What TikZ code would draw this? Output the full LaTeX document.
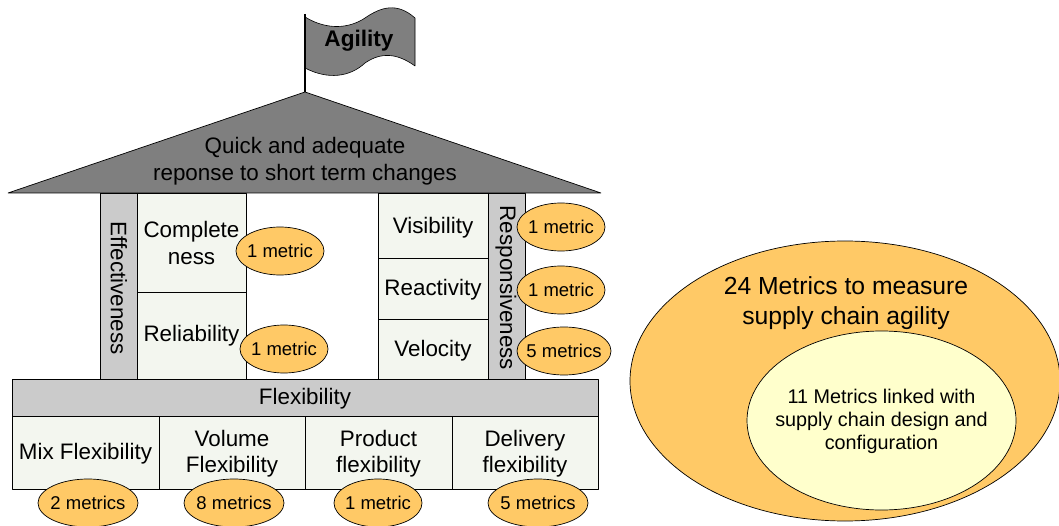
\documentclass[tikz,border=0pt]{standalone}
\usepackage{fontspec}
\setmainfont{Liberation Sans}
\usetikzlibrary{shapes.geometric}
\definecolor{cellfill}{HTML}{F3F6EF}
\definecolor{bandfill}{HTML}{CBCBCB}
\definecolor{roofgrey}{HTML}{7F7F7F}
\definecolor{metricfill}{HTML}{FFC966}
\definecolor{innerfill}{HTML}{FFFFCC}
\tikzset{
  x=1pt,y=-1pt,
  base/.style={draw=black,line width=0.7pt,inner sep=0pt,outer sep=0pt,align=center,text=black,
    font=\fontsize{22.4}{26.5}\selectfont},
  cell/.style={base,fill=cellfill,anchor=north west},
  band/.style={base,fill=bandfill,anchor=north west},
  metric/.style={base,ellipse,fill=metricfill,minimum height=48pt,inner xsep=-10pt,inner ysep=-3pt,font=\fontsize{18.5}{22}\selectfont},
  label/.style={inner sep=0pt,outer sep=0pt,align=center,text=black,font=\fontsize{22.4}{26.5}\selectfont},
}
\begin{document}
\begin{tikzpicture}[line join=bevel]
\useasboundingbox (0,0) rectangle (1059,526);
% pillars left
\node[band,minimum width=37pt,minimum height=186pt] (effband) at (100,193) {};
\node[label,rotate=-90] (efftext) at (119,288) {Effectiveness};
\node[cell,minimum width=109pt,minimum height=99pt] (compl) at (137,193) {};
\node[label] (compltext) at (191.5,243) {Complete\\ness};
\node[cell,minimum width=109pt,minimum height=87pt] (relia) at (137,292) {};
\node[label] (reliatext) at (191.5,336) {Reliability};
% pillars right
\node[cell,minimum width=110pt,minimum height=65pt] (visib) at (378,193) {};
\node[label] (visibtext) at (433,228) {Visibility};
\node[cell,minimum width=110pt,minimum height=61pt] (react) at (378,258) {};
\node[label] (reacttext) at (433,290) {Reactivity};
\node[cell,minimum width=110pt,minimum height=60pt] (veloc) at (378,319) {};
\node[label] (veloctext) at (433,351) {Velocity};
\node[band,minimum width=37pt,minimum height=186pt] (respband) at (488,193) {};
\node[label,rotate=-90] (resptext) at (506,288) {Responsiveness};
% flexibility
\node[band,minimum width=586pt,minimum height=37pt] (flex) at (12,379) {};
\node[label] (flextext) at (305,399) {Flexibility};
\node[cell,minimum width=147pt,minimum height=73pt] (mix) at (12,416) {};
\node[label] (mixtext) at (85.5,454) {Mix Flexibility};
\node[cell,minimum width=146pt,minimum height=73pt] (vol) at (159,416) {};
\node[label] (voltext) at (232,453.5) {Volume\\Flexibility};
\node[cell,minimum width=147pt,minimum height=73pt] (prod) at (305,416) {};
\node[label] (prodtext) at (378.5,453.5) {Product\\flexibility};
\node[cell,minimum width=146pt,minimum height=73pt] (deliv) at (452,416) {};
\node[label] (delivtext) at (525,453.5) {Delivery\\flexibility};
% roof
\node[base,draw=none,minimum size=0pt] (apex) at (305,92) {};
\filldraw[draw=black,line width=0.7pt,fill=roofgrey] (apex.center) -- (601,193) -- (8,193) -- cycle;
\node[label] (rooftext) at (305,161) {Quick and adequate\\reponse to short term changes};
% flag
\filldraw[draw=black,line width=0.6pt,fill=roofgrey]
  (305,17) .. controls (328,31) and (350,28) .. (365,18)
  .. controls (381,7) and (397,2) .. (415,18)
  -- (415,66)
  .. controls (397,53) and (381,52) .. (365,63)
  .. controls (350,77) and (328,80) .. (305,68) -- cycle;
\node[inner sep=0pt,font=\fontsize{22.6}{26}\selectfont\bfseries,text=black] (agility) at (359,41) {Agility};
\coordinate (poletop) at (305,14);
\draw[line width=1.6pt] (poletop) -- (apex.center);
% metrics
\node[metric,minimum width=88pt] (m1) at (280,251) {1 metric};
\node[metric,minimum width=88pt] (m2) at (284,349) {1 metric};
\node[metric,minimum width=88pt] (m3) at (561,227) {1 metric};
\node[metric,minimum width=88pt] (m4) at (561,290) {1 metric};
\node[metric,minimum width=94pt] (m5) at (564,351) {5 metrics};
\node[metric,minimum width=100pt] (m6) at (88,503) {2 metrics};
\node[metric,minimum width=100pt] (m7) at (234,503) {8 metrics};
\node[metric,minimum width=88pt] (m8) at (378,503) {1 metric};
\node[metric,minimum width=100pt] (m9) at (538,503) {5 metrics};
% venn
\node[base,ellipse,fill=metricfill,minimum width=430pt,minimum height=280pt] (outer) at (845,381) {};
\node[label,font=\fontsize{24.7}{30}\selectfont] (outertext) at (846,303) {24 Metrics to measure\\supply chain agility};
\node[base,ellipse,fill=innerfill,minimum width=269pt,minimum height=179pt] (inner) at (881.5,420.5) {};
\node[label,font=\fontsize{19.8}{23}\selectfont] (innertext) at (881.5,421.5) {11 Metrics linked with\\supply chain design and\\configuration};
\end{tikzpicture}
\end{document}
